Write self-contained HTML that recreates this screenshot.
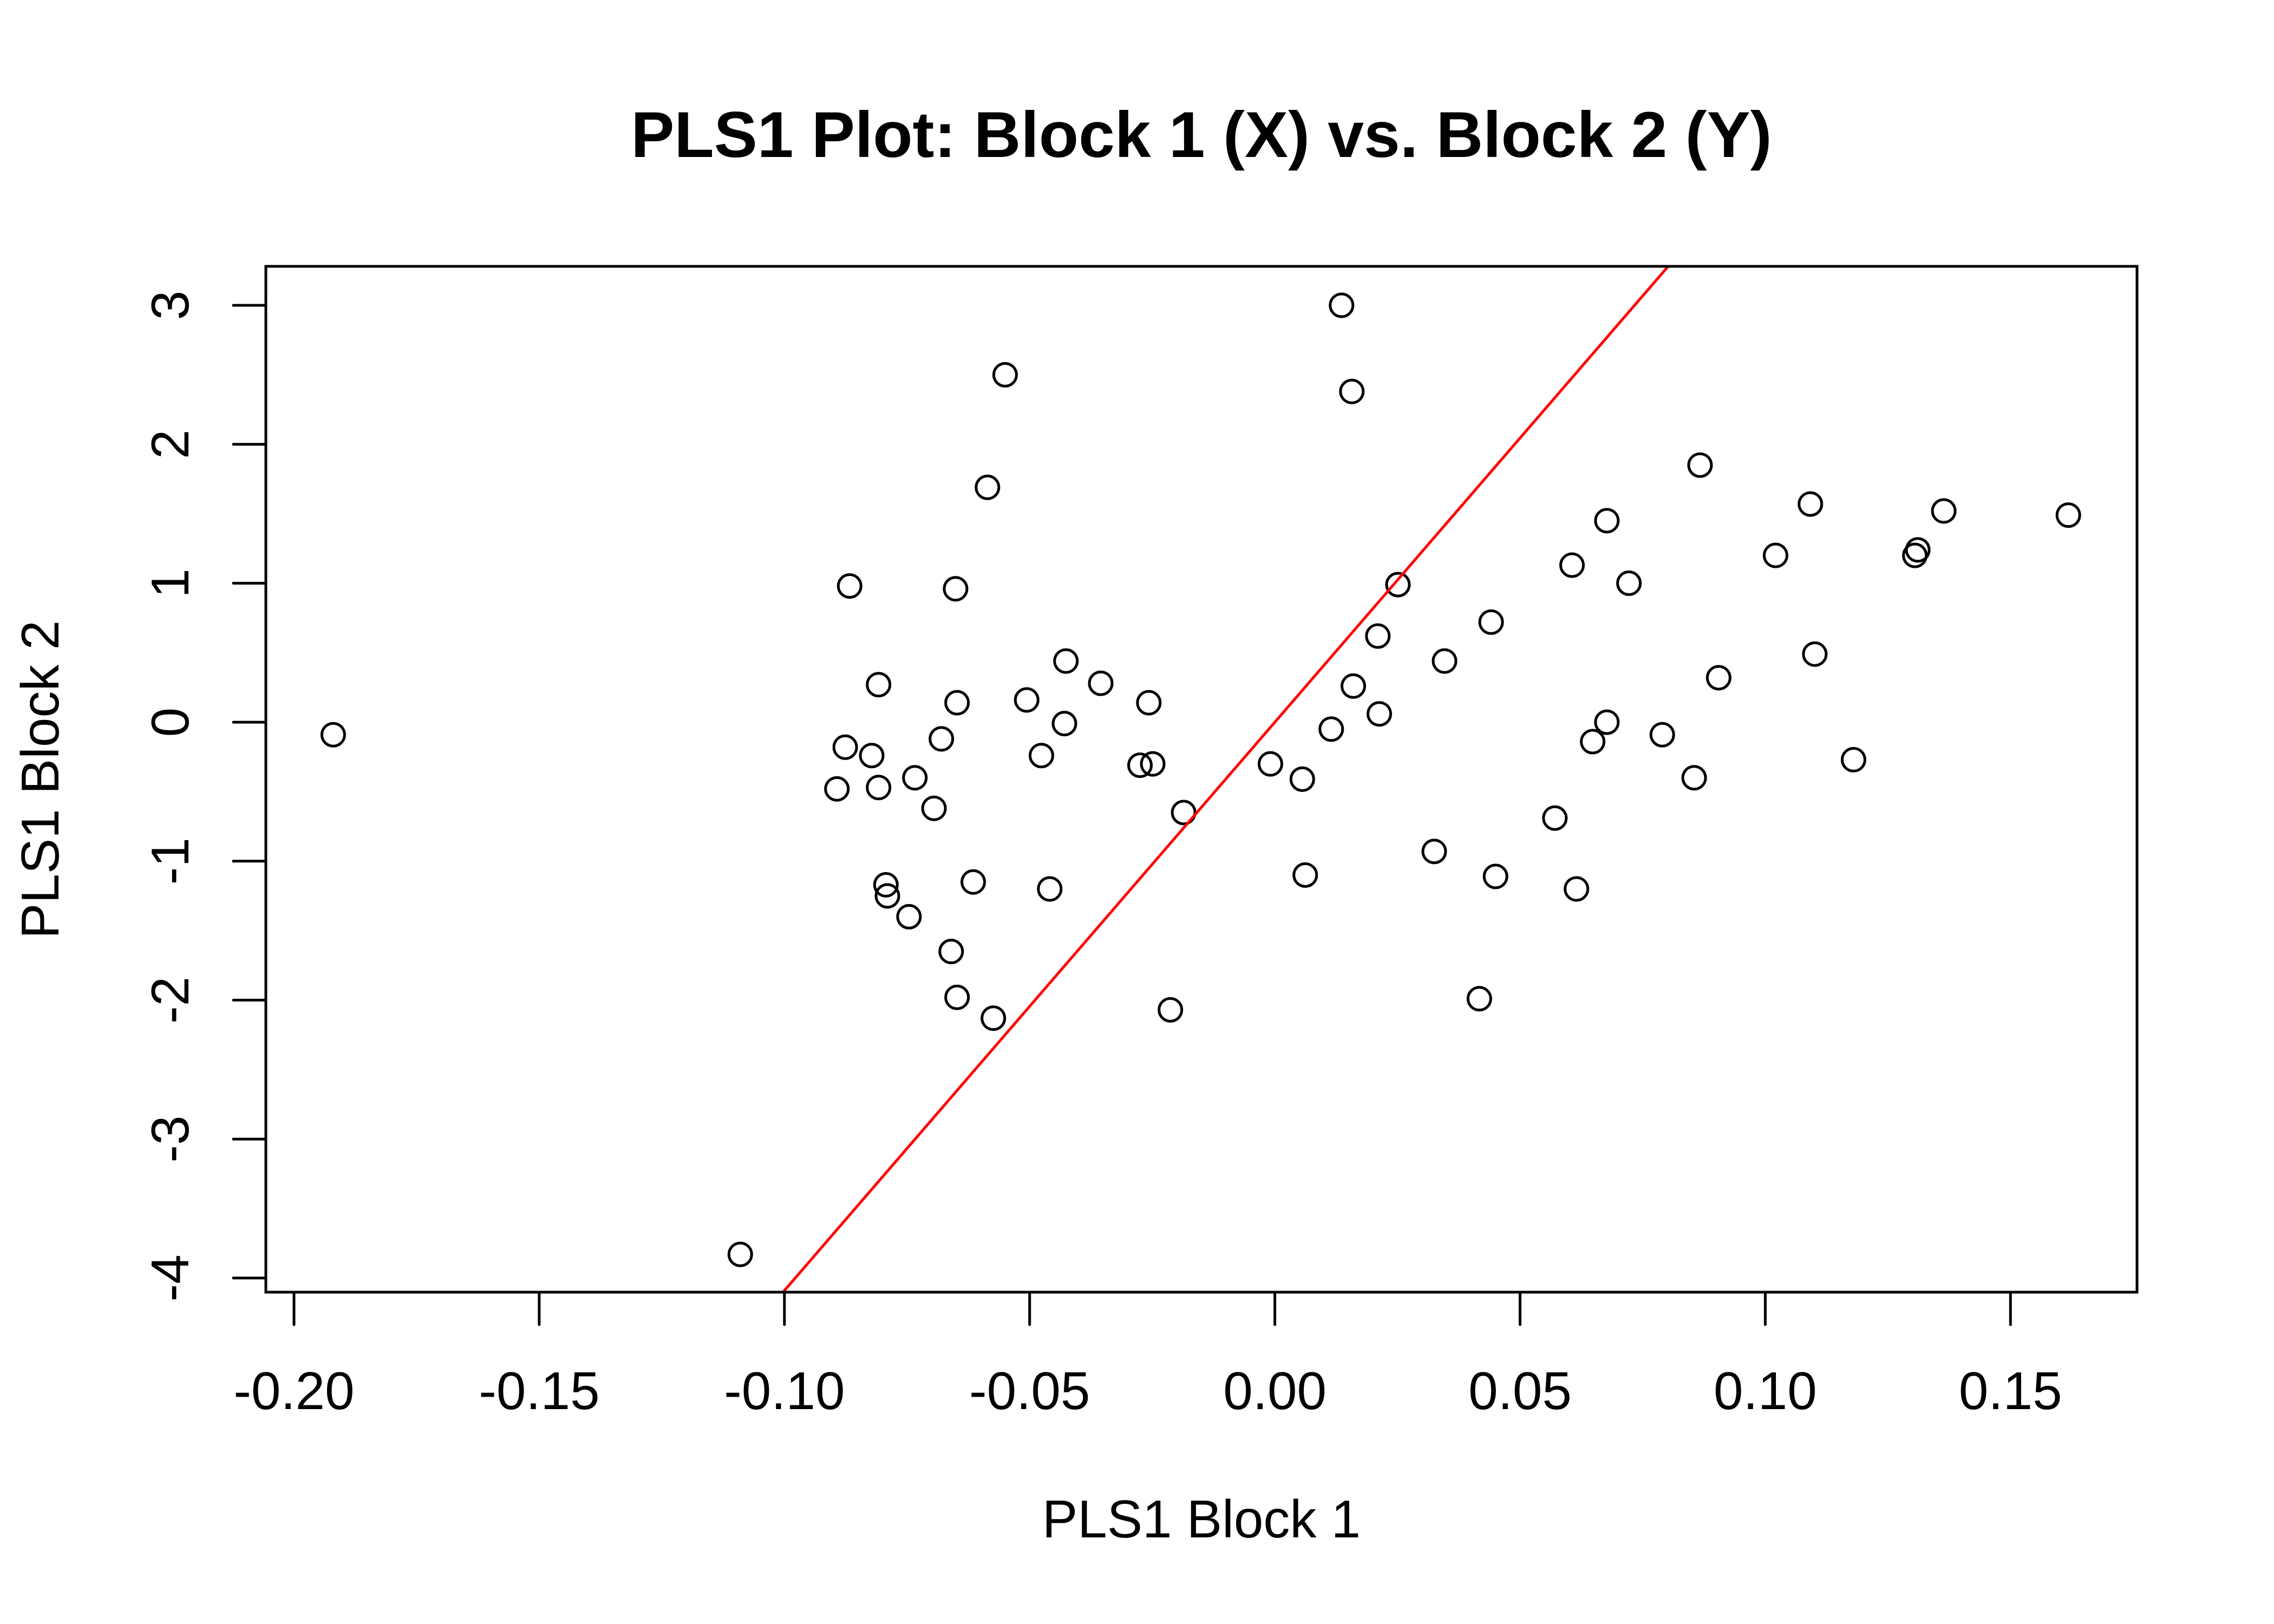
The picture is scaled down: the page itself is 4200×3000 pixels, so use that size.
<!DOCTYPE html>
<html><head><meta charset="utf-8"><style>html,body{margin:0;padding:0;background:#fff;width:4200px;height:3000px;overflow:hidden}svg{display:block}</style></head>
<body>
<svg id="chart" xmlns="http://www.w3.org/2000/svg" width="4200" height="3000" viewBox="0 0 4200 3000" font-family="Liberation Sans, Arial, sans-serif">
<rect x="0" y="0" width="4200" height="3000" fill="#fff"/>
<text x="2219" y="290" font-size="120" font-weight="bold" text-anchor="middle">PLS1 Plot: Block 1 (X) vs. Block 2 (Y)</text>
<text x="2219" y="2840" font-size="98" text-anchor="middle">PLS1 Block 1</text>
<text x="108" y="1440" font-size="98" text-anchor="middle" transform="rotate(-90 108 1440)">PLS1 Block 2</text>
<g id="axes"></g>
<g id="marks"></g>
<rect x="491" y="492" width="3456" height="1895" fill="none" stroke="#000" stroke-width="5"/>
</svg>
<script>
const xTicks = [-0.20, -0.15, -0.10, -0.05, 0.00, 0.05, 0.10, 0.15];
const xTickLabels = ["-0.20", "-0.15", "-0.10", "-0.05", "0.00", "0.05", "0.10", "0.15"];
const yTicks = [-4, -3, -2, -1, 0, 1, 2, 3];
const yTickLabels = ["-4", "-3", "-2", "-1", "0", "1", "2", "3"];
const block1 = [-0.192,-0.109,-0.0867,-0.0876,-0.0893,-0.0822,-0.0808,-0.0808,-0.0793,-0.079,-0.0746,-0.0734,-0.0695,-0.068,-0.066,-0.0651,-0.0648,-0.0648,-0.0615,-0.0586,-0.0574,-0.055,-0.0506,-0.0476,-0.0459,-0.0426,-0.0429,-0.0355,-0.0275,-0.0257,-0.0249,-0.0213,-0.0186,-0.0009,0.0056,0.0062,0.0115,0.0136,0.0157,0.016,0.021,0.0213,0.0251,0.0325,0.0346,0.0417,0.0441,0.045,0.0571,0.0606,0.0615,0.0648,0.0677,0.0677,0.0722,0.079,0.0855,0.0867,0.0905,0.1021,0.1092,0.1101,0.118,0.1305,0.1311,0.1364,0.1618];
const block2 = [-0.09,-3.83,0.98,-0.18,-0.48,-0.24,0.27,-0.47,-1.17,-1.25,-1.40,-0.40,-0.62,-0.12,-1.65,0.96,0.14,-1.98,-1.15,1.69,-2.13,2.50,0.16,-0.24,-1.20,0.44,-0.01,0.28,-0.31,0.14,-0.30,-2.07,-0.65,-0.30,-0.41,-1.10,-0.05,3.00,2.38,0.26,0.62,0.06,0.99,-0.93,0.44,-1.99,0.72,-1.11,-0.69,1.13,-1.20,-0.14,1.45,0.00,1.00,-0.09,-0.40,1.85,0.32,1.20,1.57,0.49,-0.27,1.20,1.24,1.52,1.49];
const fitSlope = [40.9];
const fitIntercept = [0];

const NS = "http://www.w3.org/2000/svg";
const PL = 491, PT = 492, PR = 3947, PB = 2387;
function sx(v){ return 543 + (v + 0.20) * 9058; }
function sy(v){ return 564 + (3 - v) * 256.7; }
function mk(tag, attrs, parent){ const e = document.createElementNS(NS, tag); for (const k in attrs) e.setAttribute(k, attrs[k]); parent.appendChild(e); return e; }
const axes = document.getElementById('axes');
const marks = document.getElementById('marks');

mk('line', {x1: sx(xTicks[0]), x2: sx(xTicks[xTicks.length-1]), y1: PB, y2: PB, stroke: '#000', 'stroke-width': 5}, axes);
xTicks.forEach((t, i) => {
  const l = mk('line', {x1: sx(t), x2: sx(t), y1: PB, y2: PB + 60, stroke: '#000', 'stroke-width': 5, 'stroke-linecap': 'round'}, axes);
  
  
  const tx = mk('text', {x: sx(t), y: 2603, 'font-size': 98, 'text-anchor': 'middle'}, axes);
  tx.textContent = xTickLabels[i];
  
  
});
yTicks.forEach((t, i) => {
  const l = mk('line', {x1: PL - 60, x2: PL, y1: sy(t), y2: sy(t), stroke: '#000', 'stroke-width': 5, 'stroke-linecap': 'round'}, axes);
  
  
  const tx = mk('text', {x: 348, y: sy(t), 'font-size': 98, 'text-anchor': 'middle', transform: 'rotate(-90 348 ' + sy(t) + ')'}, axes);
  tx.textContent = yTickLabels[i];
  
  
});

const clip = mk('clipPath', {id: 'plotclip'}, document.getElementById('chart'));
mk('rect', {x: PL, y: PT, width: PR - PL, height: PB - PT}, clip);

block1.forEach((v, i) => {
  const c = mk('circle', {cx: sx(v), cy: sy(block2[i]), r: 21, fill: 'none', stroke: '#000', 'stroke-width': 5}, marks);
  
  
});

const xa = -0.30, xb = 0.30;
const fl = mk('line', {x1: sx(xa), y1: sy(fitIntercept[0] + fitSlope[0] * xa), x2: sx(xb), y2: sy(fitIntercept[0] + fitSlope[0] * xb), stroke: '#ff0000', 'stroke-width': 5, 'clip-path': 'url(#plotclip)'}, marks);


</script>
</body></html>
